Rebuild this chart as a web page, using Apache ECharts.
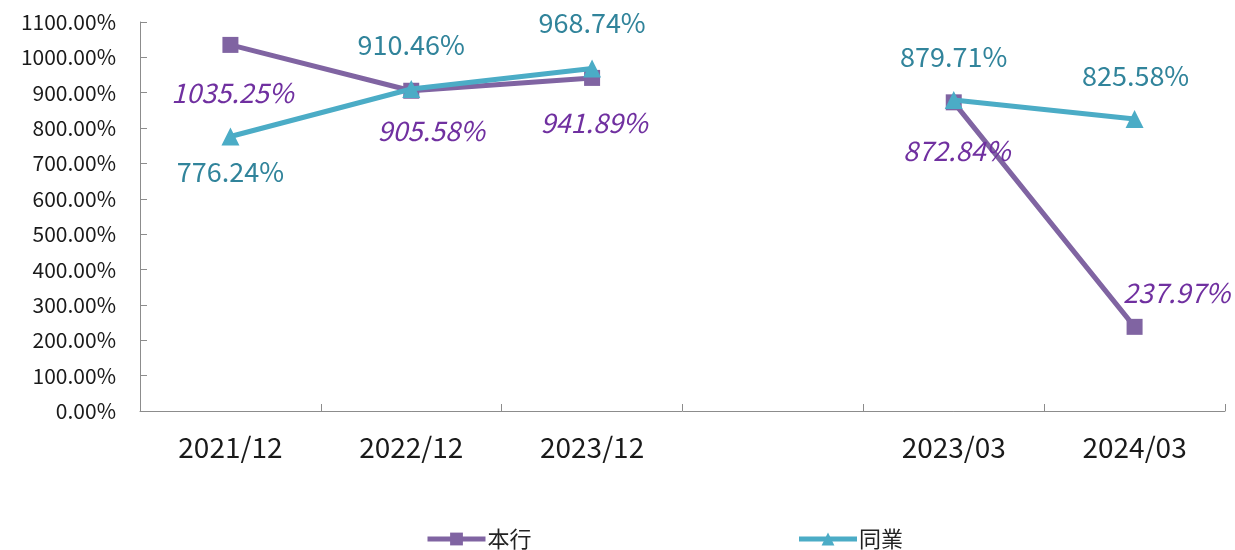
<!DOCTYPE html>
<html>
<head>
<meta charset="utf-8">
<script src="https://cdn.jsdelivr.net/npm/echarts@6/dist/echarts.min.js"></script>
<style>
  html, body { margin: 0; padding: 0; background: #fff; }
  #chart { width: 1235px; height: 550px; }
</style>
</head>
<body>
<div id="chart"></div>
<script>
// Periods (blank slot separates annual figures from quarterly ones)
const categories = ['2021/12', '2022/12', '2023/12', '', '2023/03', '2024/03'];
const bankValues = [1035.25, 905.58, 941.89, null, 872.84, 237.97];
const peerValues = [776.24, 910.46, 968.74, null, 879.71, 825.58];
const yTicks = { min: 0, max: 1100, interval: 100 };

// Label offsets relative to each point
const bankLabelOffsets = [[2, 48], [20, 40], [2, 45], null, [3, 48], [42, -34]];
const peerLabelOffsets = [[0, 35], [0, -44], [0, -46], null, [0, -43], [1, -43]];

const FONT = '"Noto Sans CJK TC", "Open Sans", sans-serif';

function buildData(values, offsets) {
  return values.map((v, i) => {
    if (v === null) return null;
    return { value: v, label: { offset: offsets[i] } };
  });
}

const chart = echarts.init(document.getElementById('chart'));
chart.setOption({
  animation: false,
  backgroundColor: '#ffffff',
  grid: { left: 140, right: 10, top: 22, bottom: 139 },
  legend: {
    top: 523,
    left: 420,
    itemGap: 265,
    itemWidth: 58,
    itemHeight: 16,
    lineStyle: { width: 5 },
    textStyle: { fontSize: 22, color: '#222', fontFamily: FONT, padding: [0, 0, 0, -3] },
    data: ['本行', '同業']
  },
  xAxis: {
    type: 'category',
    data: categories,
    boundaryGap: true,
    axisLine: { lineStyle: { color: '#8c8c8c', width: 1 } },
    axisTick: { show: true, inside: true, length: 7, lineStyle: { color: '#8c8c8c' } },
    axisLabel: { fontSize: 28, color: '#1a1a1a', margin: 22, fontFamily: FONT, interval: 0 },
    splitLine: { show: false }
  },
  yAxis: {
    type: 'value',
    min: yTicks.min,
    max: yTicks.max,
    interval: yTicks.interval,
    axisLine: { show: true, lineStyle: { color: '#8c8c8c', width: 1 } },
    axisTick: { show: true, inside: true, length: 7, lineStyle: { color: '#8c8c8c' } },
    axisLabel: {
      fontSize: 21, color: '#1a1a1a', margin: 24, fontFamily: FONT,
      formatter: v => v.toFixed(2) + '%'
    },
    splitLine: { show: false }
  },
  series: [
    {
      name: '本行',
      type: 'line',
      data: buildData(bankValues, bankLabelOffsets),
      connectNulls: false,
      symbol: 'rect',
      symbolSize: 16,
      lineStyle: { color: '#8064A2', width: 5 },
      itemStyle: { color: '#8064A2' },
      label: {
        show: true,
        position: 'inside',
        fontSize: 27,
        fontStyle: 'italic',
        color: '#7030A0',
        fontFamily: FONT,
        formatter: p => p.value.toFixed(2) + '%'
      },
      z: 2
    },
    {
      name: '同業',
      type: 'line',
      data: buildData(peerValues, peerLabelOffsets),
      connectNulls: false,
      symbol: 'triangle',
      symbolSize: 18,
      lineStyle: { color: '#4BACC6', width: 5 },
      itemStyle: { color: '#4BACC6' },
      label: {
        show: true,
        position: 'inside',
        fontSize: 27,
        color: '#31849B',
        fontFamily: FONT,
        formatter: p => p.value.toFixed(2) + '%'
      },
      z: 3
    }
  ]
});
</script>
</body>
</html>
